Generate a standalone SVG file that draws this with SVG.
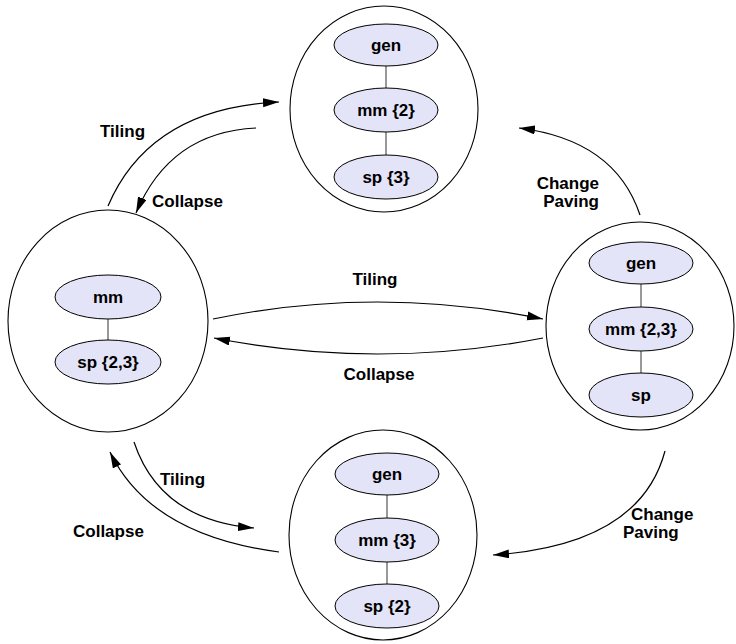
<svg xmlns="http://www.w3.org/2000/svg" width="736" height="644" viewBox="0 0 736 644">
<defs>
<style>
.outer{fill:none;stroke:#000;stroke-width:1.1}
.inner{fill:#e4e4f8;stroke:#000;stroke-width:1}
.link{stroke:#555;stroke-width:1.2}
.conn{fill:none;stroke:#000;stroke-width:1.2}
text{font-family:"Liberation Sans",Arial,sans-serif;font-weight:bold;font-size:17px;fill:#000}
.c{text-anchor:middle}
</style>
<marker id="ah" markerUnits="userSpaceOnUse" markerWidth="18" markerHeight="10" refX="16" refY="4.5" orient="auto">
<path d="M0,0 L16,4.5 L0,9 z" fill="#000"/>
</marker>
</defs>
<rect width="736" height="644" fill="#fff"/>
<g id="top">
<ellipse class="outer" cx="384" cy="109" rx="94" ry="103"/>
<line class="link" x1="386" y1="66" x2="386" y2="88"/>
<line class="link" x1="386" y1="132" x2="386" y2="155"/>
<ellipse class="inner" cx="386" cy="45" rx="52" ry="21"/>
<ellipse class="inner" cx="386" cy="110" rx="52" ry="22"/>
<ellipse class="inner" cx="386" cy="177" rx="52" ry="22"/>
<text class="c" x="386" y="51">gen</text>
<text class="c" x="386" y="116">mm {2}</text>
<text class="c" x="386" y="183">sp {3}</text>
</g>
<g id="left">
<ellipse class="outer" cx="108" cy="321" rx="100" ry="111"/>
<line class="link" x1="108" y1="318" x2="108" y2="341"/>
<ellipse class="inner" cx="108" cy="297" rx="53" ry="22"/>
<ellipse class="inner" cx="108" cy="362" rx="53" ry="22"/>
<text class="c" x="108" y="303">mm</text>
<text class="c" x="108" y="368">sp {2,3}</text>
</g>
<g id="right">
<ellipse class="outer" cx="640" cy="326" rx="94" ry="104"/>
<line class="link" x1="641" y1="284" x2="641" y2="307"/>
<line class="link" x1="641" y1="351" x2="641" y2="373"/>
<ellipse class="inner" cx="641" cy="263" rx="52" ry="21"/>
<ellipse class="inner" cx="641" cy="329" rx="52" ry="22"/>
<ellipse class="inner" cx="641" cy="395" rx="52" ry="22"/>
<text class="c" x="641" y="269">gen</text>
<text class="c" x="641" y="335">mm {2,3}</text>
<text class="c" x="641" y="401">sp</text>
</g>
<g id="bottom">
<ellipse class="outer" cx="383" cy="535" rx="94" ry="105"/>
<line class="link" x1="387" y1="495" x2="387" y2="518"/>
<line class="link" x1="387" y1="562" x2="387" y2="584"/>
<ellipse class="inner" cx="387" cy="474" rx="52" ry="21"/>
<ellipse class="inner" cx="387" cy="540" rx="52" ry="22"/>
<ellipse class="inner" cx="387" cy="606" rx="52" ry="22"/>
<text class="c" x="387" y="480">gen</text>
<text class="c" x="387" y="546">mm {3}</text>
<text class="c" x="387" y="612">sp {2}</text>
</g>
<g id="connectors">
<path class="conn" d="M108,206 Q150,108 279,102" marker-end="url(#ah)"/>
<path class="conn" d="M256,128 Q170,132 136,213" marker-end="url(#ah)"/>
<path class="conn" d="M213,319 Q377,285 543,319" marker-end="url(#ah)"/>
<path class="conn" d="M543,338 Q377,370 214,338" marker-end="url(#ah)"/>
<path class="conn" d="M640,215 Q615,140 519,128" marker-end="url(#ah)"/>
<path class="conn" d="M665,451 Q640,545 493,555" marker-end="url(#ah)"/>
<path class="conn" d="M134,442 Q160,520 254,528" marker-end="url(#ah)"/>
<path class="conn" d="M279,552 Q150,535 110,452" marker-end="url(#ah)"/>
<text x="100" y="137">Tiling</text>
<text x="152" y="207">Collapse</text>
<text class="c" x="375" y="285">Tiling</text>
<text class="c" x="379" y="380">Collapse</text>
<text x="599" y="189" text-anchor="end">Change</text>
<text x="599" y="207" text-anchor="end">Paving</text>
<text x="631" y="520">Change</text>
<text x="623" y="538">Paving</text>
<text x="160" y="485">Tiling</text>
<text x="73" y="537">Collapse</text>
</g>
</svg>
